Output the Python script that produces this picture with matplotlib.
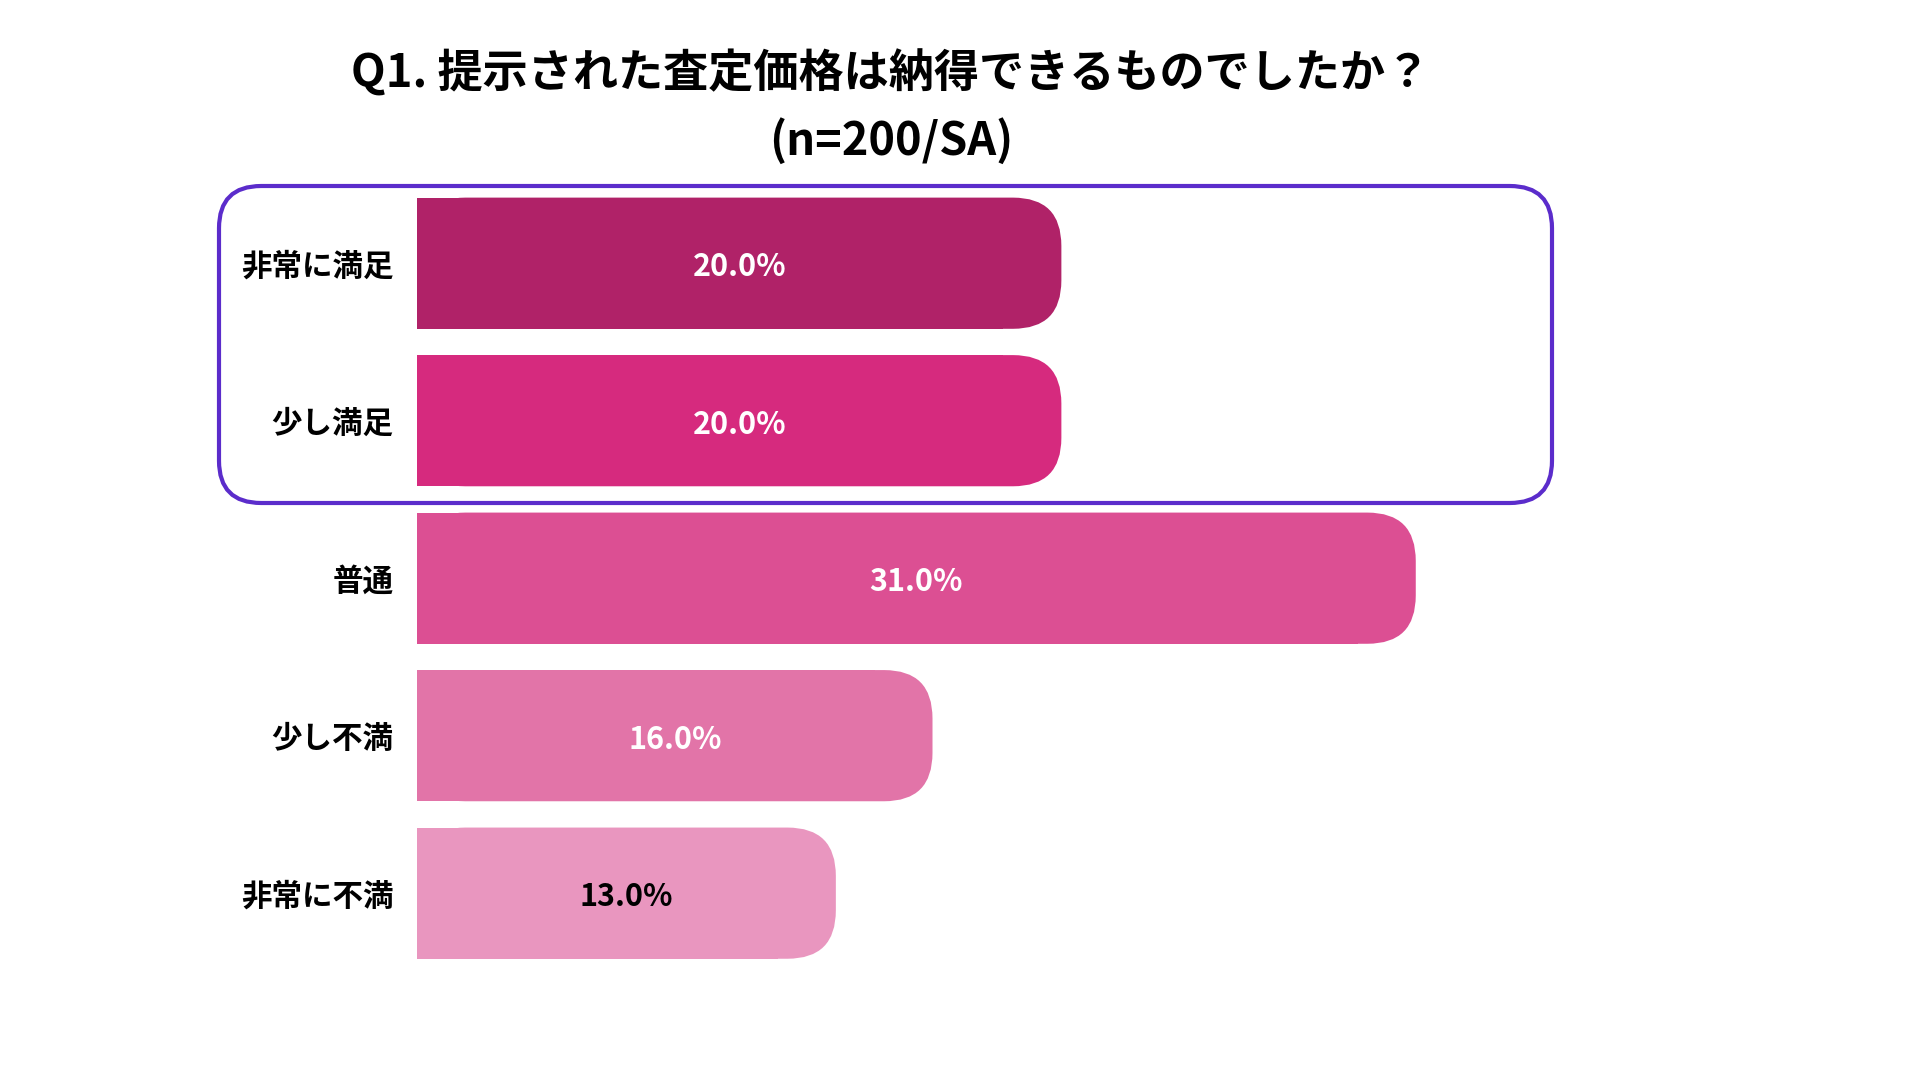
import matplotlib; matplotlib.use("Agg")
import matplotlib.pyplot as plt
from matplotlib.patches import FancyBboxPatch, Rectangle

plt.rcParams['font.family'] = ['Noto Sans CJK JP', 'DejaVu Sans']

categories = ["非常に満足", "少し満足", "普通", "少し不満", "非常に不満"]
values = [20.0, 20.0, 31.0, 16.0, 13.0]
colors = ["#B02268", "#D62A7E", "#DC4F93", "#E274A8", "#E996BF"]
text_colors = ["white", "white", "white", "white", "black"]
title = "Q1. 提示された査定価格は納得できるものでしたか？\n(n=200/SA)"

fig = plt.figure(figsize=(19.2, 10.8), dpi=100)
fig.patch.set_facecolor("white")
ax = fig.add_axes([0.2172, 0.1001, 0.6712, 0.7291])
ax.set_xlim(0, 40)
ax.set_ylim(4.5, -0.5)

h = 0.833
rx = 1.5            # corner radius in % units
aspect = 0.2046     # y-units per x-unit for a round corner
for i, (v, c, tc) in enumerate(zip(values, colors, text_colors)):
    ax.add_patch(FancyBboxPatch((0, i - h / 2), v, h,
                                boxstyle=f"round,pad=0,rounding_size={rx}",
                                mutation_aspect=aspect, fc=c, ec="none"))
    ax.add_patch(Rectangle((0, i - h / 2), v - rx * 1.2, h, fc=c, ec="none"))
    ax.text(v / 2, i + 0.025, f"{v:.1f}%", ha="center", va="center",
            fontsize=22, fontweight="bold", color=tc)

ax.set_yticks(range(len(categories)))
ax.set_yticklabels(categories, fontsize=22, fontweight="bold")
ax.tick_params(axis="y", length=0, pad=17)
ax.set_xticks([])
for s in ax.spines.values():
    s.set_visible(False)

# highlight box around the two "satisfied" rows
fig.patches.append(FancyBboxPatch((219 / 1920, 1 - 503 / 1080), (1552 - 219) / 1920, 317 / 1080,
                                  boxstyle="round,pad=0,rounding_size=0.022",
                                  mutation_aspect=1920 / 1080,
                                  transform=fig.transFigure, fc="none",
                                  ec="#5B2CCB", lw=3))

fig.text(891 / 1920, 1 - 107.5 / 1080, title, ha="center", va="center",
         fontsize=32.5, fontweight="bold", linespacing=1.57)

fig.savefig("out.png", dpi=100)
